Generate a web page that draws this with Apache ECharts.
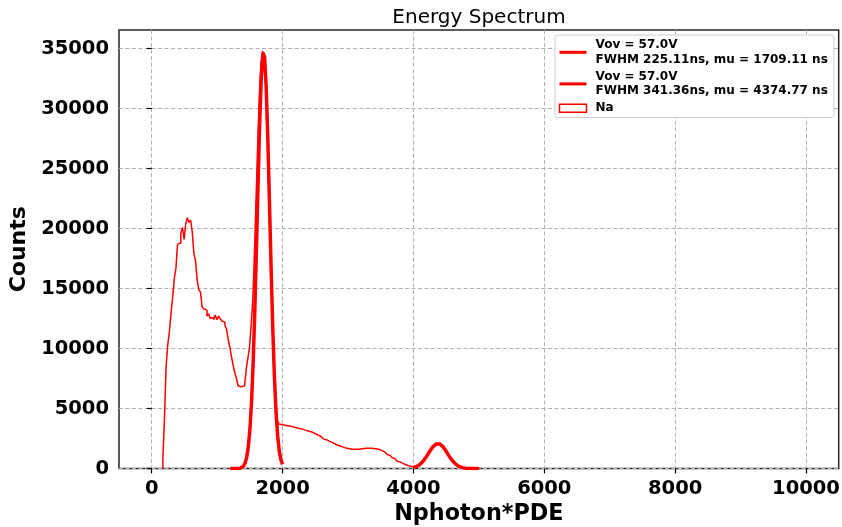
<!DOCTYPE html>
<html>
<head>
<meta charset="utf-8">
<script src="https://cdn.jsdelivr.net/npm/echarts@6/dist/echarts.min.js"></script>
<style>
html,body{margin:0;padding:0;background:#fff;}
#chart{width:842px;height:527px;}
</style>
</head>
<body>
<div id="chart"></div>
<script>
// ---- Data ----
const titleText = 'Energy Spectrum';
const xName = 'Nphoton*PDE';
const yName = 'Counts';
const xTicks = [0, 2000, 4000, 6000, 8000, 10000];
const yTicks = [0, 5000, 10000, 15000, 20000, 25000, 30000, 35000];

const fit1Name = 'Vov = 57.0V\nFWHM 225.11ns, mu = 1709.11 ns';
const fit2Name = 'Vov = 57.0V\nFWHM 341.36ns, mu = 4374.77 ns';
const histName = 'Na';

const fit1X = [1200,1225,1250,1275,1300,1325,1350,1375,1400,1425,1450,1475,1500,1525,1550,1575,1600,1625,1650,1675,1700,1709,1725,1750,1775,1800,1825,1850,1875,1900,1925,1950,1975,2000];
const fit1Y = [0,0,0,1,4,11,30,78,188,422,887,1739,3189,5461,8728,13026,18166,23657,28766,32667,34646,34800,34316,31741,27422,22122,16666,11728,7705,4729,2711,1451,725,339];

const fit2X = [4000,4025,4050,4075,4100,4125,4150,4175,4200,4225,4250,4275,4300,4325,4350,4375,4400,4425,4450,4475,4500,4525,4550,4575,4600,4625,4650,4675,4700,4725,4750,4775,4800,4825,4850,4875,4900,4925,4950,4975,5000];
const fit2Y = [73,113,169,245,344,471,624,803,1004,1218,1434,1640,1820,1960,2049,2080,2049,1960,1820,1640,1434,1218,1004,803,624,471,344,245,169,113,73,46,28,17,10,5,3,2,1,0,0];

// histogram: first bin edge, bin width, counts per bin
const histStart = 170;
const histBinWidth = 25;
const histCounts = [
 700,4200,8500,10300,11400,12900,14300,15800,16700,18700,
 18800,19600,20100,19100,20400,20900,20500,20700,19700,17900,
 17300,15700,14900,14700,13500,13300,13200,12700,12900,12500,
 12600,12400,12800,12400,12700,12500,12300,12200,11900,11600,
 10700,10100,9300,8600,8000,7500,6900,6800,6800,6900,
 6950,8300,9200,10100,12000,
 14000,18000,22500,27000,31000,33800,34800,34300,32000,28000,
 23500,17500,12000,7600,5600,4000,3700,3650,
 3650,3600,3620,3550,3520,3500,3450,3420,3400,3350,
 3320,3300,3250,3200,3150,3120,3080,3050,3000,2920,
 2850,2780,2700,2650,2560,2470,2400,2320,2260,2200,
 2140,2060,2000,1950,1900,1850,1800,1750,1700,1660,
 1640,1610,1600,1590,1600,1590,1600,1620,1640,1650,
 1680,1700,1680,1710,1680,1700,1650,1630,1600,1550,
 1490,1420,1350,1270,1180,1090,1000,910,820,720,
 630,550,480,410,350,290,240,200,170,150,
 150,160,190,250,340,460,610,790,990,1200,
 1420,1640,1820,1960,2060,2090,2060,1960,1820,1640,
 1440,1220,1000,800,620,470,340,240,170,110,
 70,45,30,20,12,8,5,3,2,1,1
];

// ---- Build series data ----
const histData = [[histStart, 0]];
histCounts.forEach((c, i) => histData.push([histStart + i * histBinWidth, c]));
histData.push([histStart + histCounts.length * histBinWidth, 0]);
const fit1Data = fit1X.map((x, i) => [x, fit1Y[i]]);
const fit2Data = fit2X.map((x, i) => [x, fit2Y[i]]);

const FONT = 'DejaVu Sans';
const plain = v => String(v);
const chart = echarts.init(document.getElementById('chart'), null, {renderer: 'canvas'});
chart.setOption({
  animation: false,
  backgroundColor: '#ffffff',
  title: {
    text: titleText,
    left: 479, top: 8, padding: 0, textAlign: 'center',
    textStyle: {fontFamily: FONT, fontWeight: 'normal', fontSize: 20, color: '#000'}
  },
  grid: {
    left: 119, right: 3.3, top: 30, bottom: 58.5,
    outerBoundsMode: 'none',
    show: true, borderColor: '#262626', borderWidth: 1.5, backgroundColor: 'transparent',
    containLabel: false
  },
  legend: {
    orient: 'vertical',
    left: 555, top: 35,
    backgroundColor: '#ffffff',
    borderColor: '#cccccc', borderWidth: 1, borderRadius: 3,
    padding: [3, 6, 2, 3],
    itemGap: 3,
    itemWidth: 27, itemHeight: 8,
    textStyle: {fontFamily: FONT, fontWeight: 'bold', fontSize: 12, lineHeight: 14.3, color: '#000', padding: [0,0,0,4]},
    data: [
      {name: fit1Name, itemStyle: {opacity: 0}, lineStyle: {width: 3, color: '#ff0000'}},
      {name: fit2Name, itemStyle: {opacity: 0}, lineStyle: {width: 3, color: '#ff0000'}},
      {name: histName, icon: 'rect', itemStyle: {color: '#ffffff', borderColor: '#ff0000', borderWidth: 1.5}}
    ]
  },
  xAxis: {
    type: 'value', min: -500, max: 10500,
    name: xName, nameLocation: 'middle', nameGap: 35,
    nameTextStyle: {fontFamily: FONT, fontWeight: 'bold', fontSize: 22.3, color: '#000'},
    axisLine: {show: false},
    axisTick: {show: true, length: 5, lineStyle: {color: '#000', width: 1.2}, customValues: xTicks},
    axisLabel: {customValues: xTicks, formatter: plain, margin: 10, fontFamily: FONT, fontWeight: 'bold', fontSize: 19.5, color: '#000'},
    splitLine: {show: true, lineStyle: {color: '#b0b0b0', type: [4, 2.5], width: 1}}
  },
  yAxis: {
    type: 'value', min: 0, max: 36550,
    name: yName, nameLocation: 'middle', nameGap: 78, nameRotate: 90,
    nameTextStyle: {fontFamily: FONT, fontWeight: 'bold', fontSize: 22, color: '#000'},
    axisLine: {show: false},
    axisTick: {show: true, length: 5, lineStyle: {color: '#000', width: 1.2}, customValues: yTicks},
    axisLabel: {customValues: yTicks, formatter: plain, margin: 10, fontFamily: FONT, fontWeight: 'bold', fontSize: 19.5, color: '#000'},
    splitLine: {show: true, lineStyle: {color: '#b0b0b0', type: [4, 2.5], width: 1}}
  },
  series: [
    {
      name: fit1Name, type: 'line', data: fit1Data, showSymbol: false, symbol: 'none',
      lineStyle: {color: '#ff0000', width: 3.5}, itemStyle: {color: '#ff0000'}, z: 3
    },
    {
      name: fit2Name, type: 'line', data: fit2Data, showSymbol: false, symbol: 'none',
      lineStyle: {color: '#ff0000', width: 3.5}, itemStyle: {color: '#ff0000'}, z: 3
    },
    {
      name: histName, type: 'line', step: 'end', data: histData, showSymbol: false, symbol: 'none',
      lineStyle: {color: '#ff0000', width: 1.5}, itemStyle: {color: '#ff0000'}, z: 2
    }
  ]
});
</script>
</body>
</html>
